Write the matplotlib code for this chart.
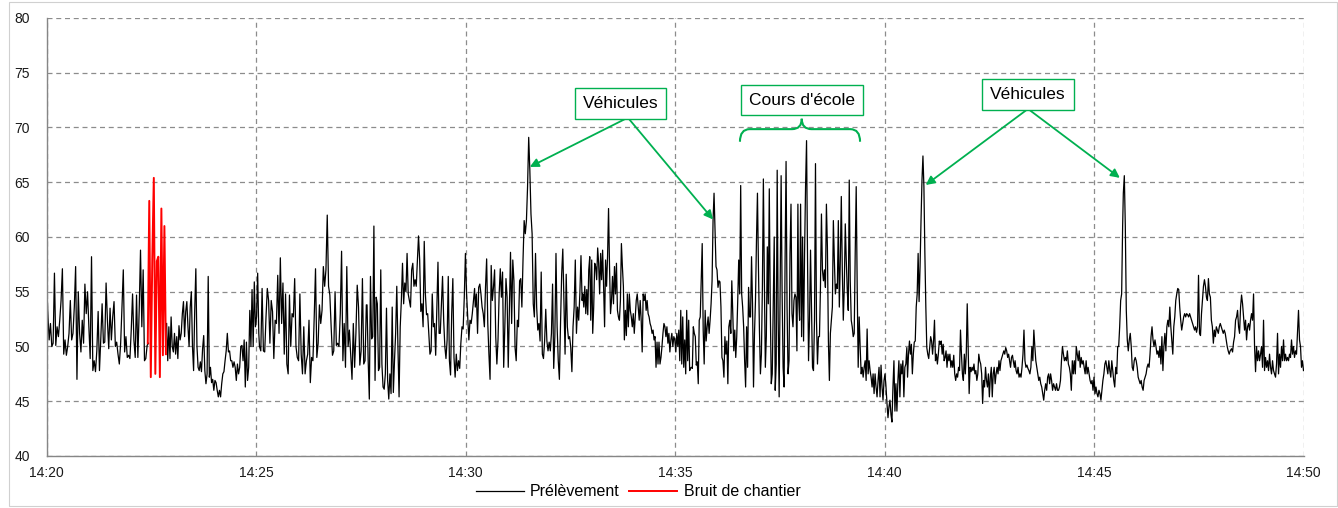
import numpy as np
import matplotlib
matplotlib.use("Agg")
import matplotlib.pyplot as plt
from matplotlib.path import Path
from matplotlib.patches import PathPatch, Rectangle

# ---------------- data (seconds after 14:20, dB) ----------------
x_tick_seconds = [0, 300, 600, 900, 1200, 1500, 1800]
x_tick_labels = ["14:20", "14:25", "14:30", "14:35", "14:40", "14:45", "14:50"]
y_ticks = [40, 45, 50, 55, 60, 65, 70, 75, 80]

# black series "Prélèvement": segments (start_s, end_s) and sampled values
seg01_span = (0, 146)
seg01 = [56.5,53.0,50.6,52.1,50.0,50.3,56.7,50.1,51.8,50.9,52.4,54.2,57.1,49.3,50.6,49.2,50.0,51.2,54.2,50.6,
         51.2,53.6,57.3,47.0,55.0,51.2,49.5,52.4,50.3,55.7,53.0,55.0,51.8,48.9,58.2,47.8,48.7,47.7,49.6,53.2,
         47.8,50.7,53.9,50.3,50.4,55.8,52.4,49.8,53.5,50.6,52.7,54.1,50.0,50.4,49.3,48.4,50.3,53.6,57.0,49.5,
         50.9,49.0,49.2,48.9,51.5,54.8,50.6,49.0,54.7,49.0,53.3,58.8,51.8,57.0,48.7,48.9,50.1,50.3]
seg02_span = (172, 304)
seg02 = [52.1,48.7,51.8,48.9,52.7,50.0,49.5,51.2,49.3,50.9,48.9,51.9,50.6,51.2,53.0,54.1,50.9,53.2,54.1,51.8,
         50.0,53.6,55.0,50.0,47.8,53.3,57.1,50.0,48.1,47.8,48.6,47.7,49.8,51.0,47.8,46.6,47.5,56.4,47.2,48.1,
         46.7,47.0,46.0,46.9,46.7,46.0,45.4,46.0,45.4,46.6,47.5,47.7,48.7,49.6,51.2,49.5,49.6,48.7,48.7,48.1,
         48.6,48.1,46.9,48.4,47.5,48.1,50.0,50.1,48.7,50.6,46.3,50.4,46.9,48.1,53.3,50.0,55.2,50.0,55.9,51.8,
         52.7,56.7,51.2]
seg03_span = (305, 458)
seg03 = [50.0,49.6,55.3,49.6,49.5,52.7,55.3,54.2,50.3,54.2,53.2,48.9,52.4,52.1,56.5,51.2,58.1,52.1,55.8,49.3,
         54.8,48.4,47.5,54.7,50.0,53.0,52.7,56.2,50.0,49.0,48.7,54.8,49.3,47.5,51.8,47.5,48.7,49.3,52.4,46.7,
         49.0,48.7,52.7,57.1,49.0,50.3,53.8,52.1,53.3,57.3,55.5,57.0,62.0,55.5,54.7,51.8,49.2,49.6,55.0,50.1,
         50.3,50.0,53.0,58.7,48.7,52.1,48.1,57.3,50.0,51.5,49.3,47.0,52.1,48.1,51.2,55.6,53.6,48.3,49.6,56.2,
         48.4,48.7,53.8]
seg04_span = (459, 613)
seg04 = [53.8,48.7,45.2,56.4,50.7,50.9,61.0,46.9,54.5,53.9,47.8,48.1,57.0,48.4,46.3,46.1,47.5,53.5,46.9,45.2,
         47.5,45.7,53.6,45.8,48.7,51.2,55.5,50.0,45.4,51.8,54.2,57.6,53.9,55.8,55.0,58.5,54.8,54.2,53.6,57.0,
         57.6,55.5,56.1,55.5,57.9,60.1,57.9,53.2,53.9,51.8,59.6,54.8,52.9,53.0,51.2,49.3,49.6,54.8,51.8,52.1,
         49.2,53.3,57.7,51.2,51.2,53.8,56.4,52.4,50.0,48.9,50.6,56.4,48.7,47.4,53.0,56.2,49.0,47.2,49.3,47.8,
         48.7,48.0,50.3,51.8,51.6,54.5,58.5,54.8,52.7,50.6,52.4,52.1,53.0,54.2,55.3]
seg05_span = (614, 767)
seg05 = [53.6,54.8,51.2,55.4,55.7,54.8,53.6,53.0,51.8,55.4,58.0,52.1,49.3,47.0,57.4,54.2,55.4,57.0,50.9,48.4,
         50.6,54.8,57.1,54.5,56.8,48.1,51.8,56.2,54.5,48.1,53.6,58.6,52.1,57.9,56.0,49.9,48.7,52.4,51.8,56.0,
         56.2,53.6,57.9,61.5,60.3,61.5,64.6,69.1,66.1,62.1,60.3,53.9,52.7,58.5,53.6,51.5,52.1,50.5,56.8,49.3,
         48.9,50.5,53.4,50.5,49.6,50.4,49.6,51.2,55.7,48.0,50.9,58.5,51.8,48.7,47.0,52.1,56.6,58.9,54.2,49.3,
         56.6,51.8,50.7,50.9,49.9,47.7,51.8,53.6,57.9,51.2,53.6,52.4,54.8,58.3,54.2]
seg06_span = (768, 921)
seg06 = [54.8,53.6,55.5,53.0,55.2,52.9,57.0,58.2,52.4,57.9,51.2,53.6,57.6,57.3,56.1,59.0,57.6,54.8,58.5,56.1,
         58.8,55.5,51.8,57.9,55.5,58.2,62.6,57.3,53.0,54.2,56.4,53.9,57.3,54.8,57.6,53.3,52.7,52.4,54.2,59.4,
         57.3,55.5,50.6,53.3,51.0,54.8,51.8,54.8,53.3,52.7,51.8,53.0,51.2,52.7,54.2,54.8,53.6,52.4,54.2,52.4,
         49.5,54.8,54.2,54.8,53.3,54.2,53.0,52.7,52.1,51.8,51.2,51.5,50.6,50.9,48.1,50.4,48.4,50.4,48.4,49.0,
         50.0,51.2,52.1,51.8,50.9,51.8,50.3,51.2,49.5,50.6,51.2,50.0,50.9,50.6,49.5,51.2,50.0,51.5,48.7,53.3,
         48.4,52.7,48.1,50.6,47.5,53.3,48.7,52.4,47.8]
seg07_span = (922, 1076)
seg07 = [48.0,48.1,48.0,51.8,51.2,50.9,48.3,48.6,46.6,52.4,52.7,56.0,59.4,51.5,48.4,53.3,50.5,51.8,52.7,51.2,
         52.4,53.9,56.0,61.5,64.0,60.6,57.3,57.0,55.4,56.0,55.9,53.6,49.0,48.7,47.2,50.9,49.3,50.5,46.6,51.8,
         52.4,51.2,56.0,53.0,49.6,51.5,49.0,50.9,54.2,57.9,54.8,64.7,54.8,53.6,51.8,48.7,46.3,51.8,48.1,55.4,
         52.7,52.7,58.2,53.9,46.3,51.2,54.2,59.7,64.0,57.3,51.5,47.5,49.3,55.4,65.3,56.0,48.1,50.9,59.1,53.9,
         64.4,53.6,46.6,47.5,53.6,60.0,46.0,48.4,66.1,52.4,45.4,55.4,65.6,54.8,48.1,46.3,57.9,66.9,53.6,47.5,
         48.7,58.5,63.0,53.0,51.8,54.2,54.8,54.5,49.6,63.0]
seg08_span = (1077, 1232)
seg08 = [54.5,52.4,63.0,50.9,60.0,50.5,58.5,64.6,68.8,57.9,48.7,52.4,58.8,53.6,48.1,47.8,52.4,66.7,52.4,48.4,
         50.9,50.9,55.4,62.1,57.0,56.0,57.0,55.4,63.0,59.1,50.5,46.9,51.2,52.4,53.6,61.5,57.9,54.8,55.7,55.3,
         61.5,53.6,57.9,63.7,57.0,52.4,55.4,61.2,57.9,55.1,53.3,65.2,56.0,52.4,51.8,50.9,51.2,58.5,64.6,55.4,
         48.1,52.7,49.9,47.5,48.1,47.2,48.1,48.7,46.9,51.6,47.5,48.7,47.8,47.2,46.3,47.5,45.7,47.5,46.3,45.4,
         46.9,48.1,45.4,48.3,46.3,45.1,46.9,47.5,46.3,44.8,43.5,44.5,45.1,43.8,43.1,46.3,48.7,44.1,46.6,44.1,
         46.9,48.7,45.4,48.4,47.5,48.7,45.4,48.1,48.4,49.9]
seg09_span = (1233, 1386)
seg09 = [47.2,49.3,50.5,49.3,50.2,47.5,49.3,50.4,50.5,53.6,54.8,58.5,54.1,57.3,61.5,65.2,67.4,64.6,58.5,53.6,
         49.9,49.3,48.9,49.9,50.9,50.5,49.3,50.5,52.4,48.7,49.3,48.4,49.3,50.5,50.2,50.5,49.3,50.2,48.7,49.0,
         49.6,48.1,49.3,48.7,49.3,48.1,48.7,48.1,49.2,47.5,46.9,47.5,47.2,48.1,47.8,51.5,49.3,47.5,46.9,49.3,
         47.5,49.3,53.9,49.6,45.7,48.1,47.7,48.1,47.8,48.4,47.5,47.8,46.9,47.5,49.3,48.7,48.4,47.5,44.8,46.9,
         46.3,48.1,46.9,46.3,47.5,45.4,47.2,48.1,45.4,47.5,48.1,46.6,47.5,48.1,47.5,48.7,47.8,48.7,49.0,49.3,
         49.6,49.3,49.9,49.6,49.0,49.3,48.7,48.1,49.0,49.2,48.6,48.1]
seg10_span = (1387, 1541)
seg10 = [48.7,47.8,47.5,48.1,47.2,47.5,47.2,48.1,49.3,51.5,48.7,48.1,48.3,48.0,47.8,47.5,48.1,50.0,48.7,51.5,
         50.0,48.7,48.1,47.5,46.9,47.2,46.6,46.3,45.7,45.1,46.0,46.6,46.0,47.2,47.5,46.6,47.5,46.9,46.0,46.6,
         46.3,46.0,46.6,46.0,46.0,46.3,46.9,48.7,50.0,49.3,48.7,49.0,48.7,49.6,48.4,48.1,47.5,46.0,48.7,47.5,
         48.7,47.5,50.0,49.3,48.7,49.6,48.1,49.0,48.4,48.7,48.1,47.5,48.7,47.5,48.1,47.5,46.9,46.6,46.9,46.0,
         47.2,45.7,46.3,45.7,45.4,46.0,45.7,45.1,46.0,46.9,47.5,48.4,48.7,48.1,47.5,48.7,47.8,47.2,48.7,47.8,
         46.9,46.3,48.1,47.5,50.0,50.0,51.8,54.2,54.8,61.0]
seg11_span = (1542, 1695)
seg11 = [64.0,65.6,61.0,53.3,50.6,49.6,50.6,51.2,50.0,48.1,47.8,48.7,49.0,48.7,48.1,47.2,46.9,46.6,46.9,46.3,
         46.0,46.9,47.2,47.5,48.1,48.4,48.1,49.3,50.9,51.8,50.6,50.0,50.6,50.0,49.3,49.6,49.0,50.0,48.4,50.9,
         47.8,50.0,51.2,49.6,51.8,52.4,51.8,53.6,51.8,50.6,49.3,51.8,52.7,54.2,54.8,55.3,55.2,53.6,52.4,51.5,
         52.1,52.7,53.0,52.7,53.0,52.9,52.7,53.0,52.7,52.4,52.1,51.8,51.5,51.8,51.3,51.8,56.5,51.2,51.0,53.0,
         54.2,55.5,56.1,55.5,54.5,54.2,56.2,54.8,54.5,52.4,51.8,50.3,51.5,50.9,51.8,51.5,51.2,51.8,52.1,51.8,
         51.5,51.2,51.5,51.2,50.6,50.0,49.6,49.3,49.6]
seg12_span = (1697, 1800)
seg12 = [49.8,49.5,50.4,50.9,52.4,52.7,53.3,51.8,51.2,53.6,54.7,53.9,52.7,51.5,52.4,50.6,51.8,52.1,51.5,52.4,
         53.0,52.4,54.8,50.0,47.7,50.0,48.7,49.6,48.7,49.3,50.0,48.1,52.4,47.8,49.0,48.1,48.7,47.8,49.3,48.1,
         47.5,48.7,47.8,47.5,47.2,48.4,51.2,47.5,49.3,48.1,50.0,48.7,50.6,48.7,49.3,48.7,49.0,48.7,49.3,49.0,
         50.6,49.3,50.0,49.0,49.6,49.3,51.2,53.3,50.6,50.0,48.1,48.7,47.8]

# red series "Bruit de chantier"
red_span = (145, 171)
red_vals = [50.3,63.3,47.2,58.0,65.4,47.5,57.8,58.2,47.2,62.6,49.2,61.0,49.3]

series_name_black = "Prélèvement"
series_name_red = "Bruit de chantier"

ann_vehicles = "Véhicules"
ann_school = "Cours d'école"

# ---------------- build ----------------
def seg_xy(span, vals):
    t = np.linspace(span[0], span[1], len(vals))
    return t, np.asarray(vals, dtype=float)

first = seg_xy(seg01_span, seg01)
rest = [seg_xy(s, v) for s, v in [(seg02_span, seg02), (seg03_span, seg03), (seg04_span, seg04),
                                   (seg05_span, seg05), (seg06_span, seg06), (seg07_span, seg07),
                                   (seg08_span, seg08), (seg09_span, seg09), (seg10_span, seg10),
                                   (seg11_span, seg11), (seg12_span, seg12)]]
t_rest = np.concatenate([r[0] for r in rest])
v_rest = np.concatenate([r[1] for r in rest])
t_red, v_red = seg_xy(red_span, red_vals)

plt.rcParams['font.family'] = ['Liberation Sans', 'DejaVu Sans']

W, H = 1338, 508
fig = plt.figure(figsize=(W / 100, H / 100), dpi=100)
ax = fig.add_axes([46.5 / W, 1 - 456 / H, (1303.5 - 46.5) / W, (456 - 18) / H])

# light chart-area frame
fig.patches.append(Rectangle((8.5 / W, 2.5 / H), (W - 10) / W, (H - 4) / H, transform=fig.transFigure,
                             fill=False, ec='#D0D0D0', lw=0.8))

green = '#00B050'
gridc = '#8C8C8C'

ax.plot(first[0], first[1], color='black', lw=0.9, label=series_name_black)
ax.plot(t_rest, v_rest, color='black', lw=0.9)
ax.plot(t_red, v_red, color='#FF0000', lw=1.4, label=series_name_red)

ax.set_xlim(0, 1800)
ax.set_ylim(40, 80)
ax.set_xticks(x_tick_seconds)
ax.set_xticklabels(x_tick_labels)
ax.set_yticks(y_ticks)
ax.grid(True, color=gridc, linestyle=(0, (4, 3)), lw=0.9)
ax.set_axisbelow(True)
for s in ['top', 'right']:
    ax.spines[s].set_visible(False)
for s in ['left', 'bottom']:
    ax.spines[s].set_color('#868686')
    ax.spines[s].set_linewidth(1.0)
ax.tick_params(axis='y', length=0, labelsize=10, labelcolor='#1a1a1a', pad=12)
ax.tick_params(axis='x', length=0, labelsize=10, labelcolor='#1a1a1a', pad=7)

leg = fig.legend(loc='center', bbox_to_anchor=(638 / W, 1 - 492 / H), ncol=2, frameon=False,
                 fontsize=11.5, handlelength=3.0, columnspacing=0.6, handletextpad=0.4)

# annotations
box = dict(boxstyle='square,pad=0.45', fc='white', ec=green, lw=1.0)
ax.text(822, 72.2, ann_vehicles, ha='center', va='center', fontsize=12.5, bbox=box, zorder=5)
ax.text(1081.5, 72.5, ann_school, ha='center', va='center', fontsize=12.5, bbox=box, zorder=5)
ax.text(1405.5, 73.0, ann_vehicles, ha='center', va='center', fontsize=12.5, bbox=box, zorder=5)

arrow = dict(arrowstyle='-|>', color=green, lw=1.3, mutation_scale=13, shrinkA=0, shrinkB=0)
for start, end in [((832.5, 70.9), (692, 66.4)), ((832.5, 70.9), (954.5, 61.6)),
                   ((1405.5, 71.7), (1259, 64.75)), ((1405.5, 71.7), (1537, 65.4))]:
    ax.annotate('', xy=end, xytext=start, arrowprops=arrow, zorder=4)

# curly brace
t0, t1, tm = 993, 1165, 1081.5
yb, yh, yt = 68.7, 69.85, 70.8
r = 14
verts = [(t0, yb), (t0, yh), (t0 + r, yh), (tm - r, yh), (tm, yh), (tm, yt),
         (tm, yt), (tm, yh), (tm + r, yh), (t1 - r, yh), (t1, yh), (t1, yb)]
codes = [Path.MOVETO, Path.CURVE3, Path.CURVE3, Path.LINETO, Path.CURVE3, Path.CURVE3,
         Path.MOVETO, Path.CURVE3, Path.CURVE3, Path.LINETO, Path.CURVE3, Path.CURVE3]
ax.add_patch(PathPatch(Path(verts, codes), fc='none', ec=green, lw=1.5, zorder=4))

fig.savefig('out.png', dpi=100)
